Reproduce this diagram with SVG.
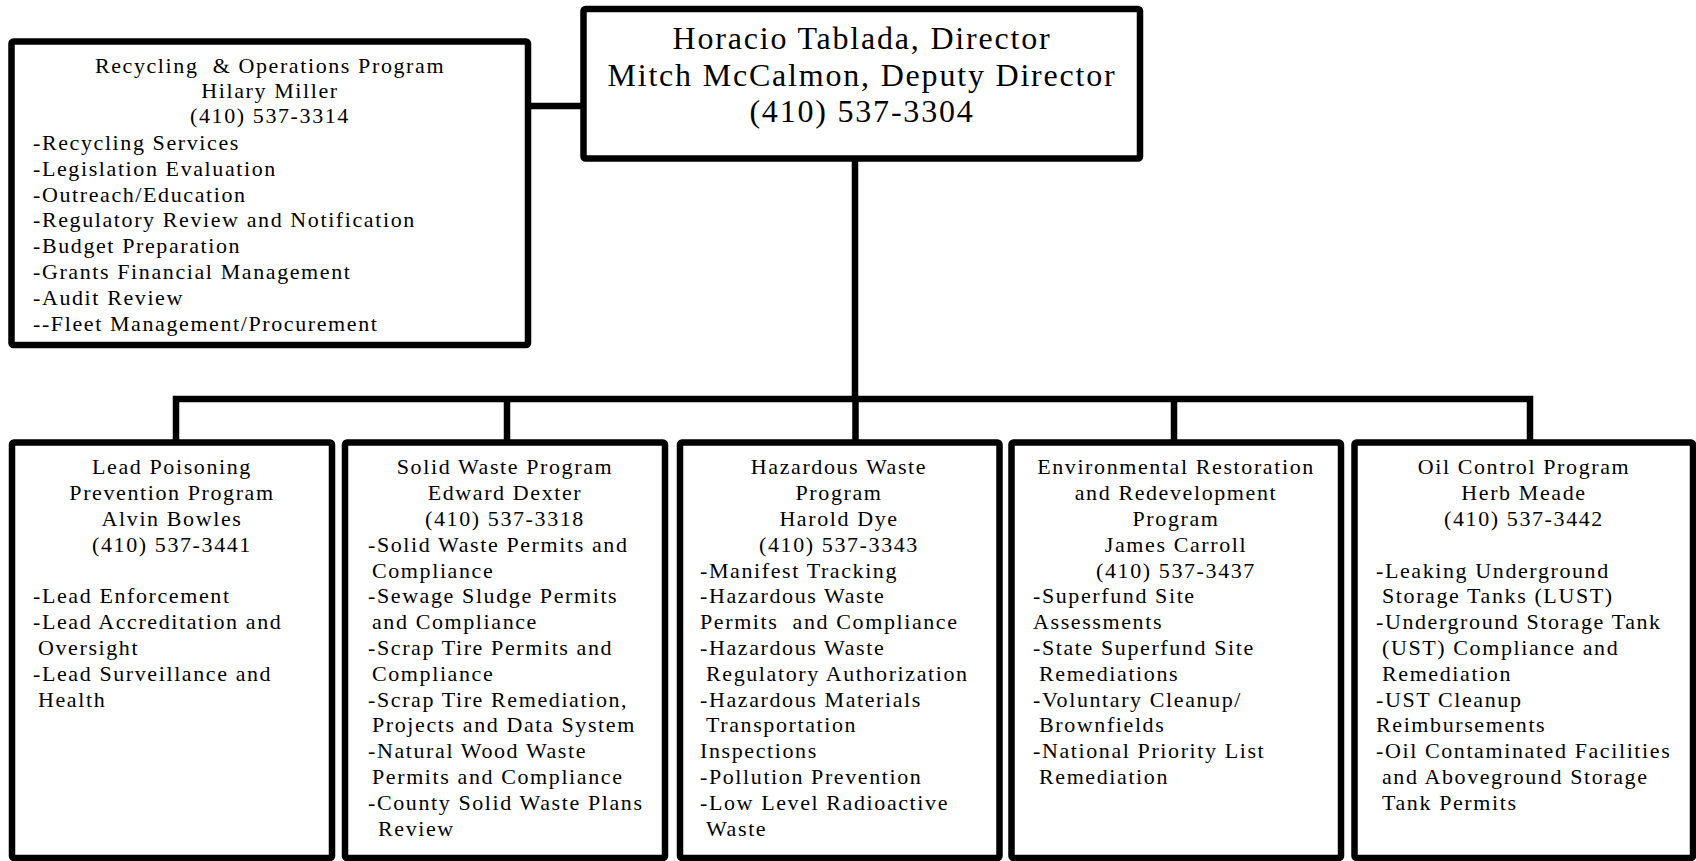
<svg xmlns="http://www.w3.org/2000/svg" width="1696" height="861" viewBox="0 0 1696 861">
<style>
.box{fill:#fff;stroke:#000;stroke-width:6.5;stroke-linejoin:round}
.ln{fill:none;stroke:#000;stroke-width:6.5;stroke-linejoin:miter;stroke-linecap:butt}
text{font-family:"Liberation Serif","Times New Roman",serif;fill:#000;font-size:22px;letter-spacing:1.6px}
.c{text-anchor:middle}
.dir{font-size:32px;letter-spacing:1.8px}
</style>
<rect width="1696" height="861" fill="#fff"/>
<g id="connectors">
<line class="ln" x1="528" y1="106" x2="584" y2="106"/>
<line class="ln" x1="855" y1="158" x2="855" y2="399"/>
<polyline class="ln" points="176,442 176,399 1530,399 1530,442"/>
<line class="ln" x1="507" y1="399" x2="507" y2="442"/>
<line class="ln" x1="855.5" y1="399" x2="855.5" y2="442"/>
<line class="ln" x1="1174" y1="399" x2="1174" y2="442"/>
</g>
<g id="director">
<rect class="box" x="583.5" y="9" width="556.5" height="149.5" rx="2"/>
<text class="c dir" x="862" y="49">Horacio Tablada, Director</text>
<text class="c dir" x="862" y="86">Mitch McCalmon, Deputy Director</text>
<text class="c dir" x="862" y="122">(410) 537-3304</text>
</g>
<g id="recycling">
<rect class="box" x="11.5" y="41.5" width="516.5" height="303.5" rx="2"/>
<text class="c" x="270" y="73" xml:space="preserve">Recycling  &amp; Operations Program</text>
<text class="c" x="270" y="98">Hilary Miller</text>
<text class="c" x="270" y="123">(410) 537-3314</text>
<text x="33" y="150">-Recycling Services</text>
<text x="33" y="176">-Legislation Evaluation</text>
<text x="33" y="202">-Outreach/Education</text>
<text x="33" y="227">-Regulatory Review and Notification</text>
<text x="33" y="253">-Budget Preparation</text>
<text x="33" y="279">-Grants Financial Management</text>
<text x="33" y="305">-Audit Review</text>
<text x="33" y="331">--Fleet Management/Procurement</text>
</g>
<g id="lead">
<rect class="box" x="12" y="442.5" width="320" height="415.5" rx="2"/>
<text class="c" x="172" y="474">Lead Poisoning</text>
<text class="c" x="172" y="500">Prevention Program</text>
<text class="c" x="172" y="526">Alvin Bowles</text>
<text class="c" x="172" y="552">(410) 537-3441</text>
<text x="33" y="603">-Lead Enforcement</text>
<text x="33" y="629">-Lead Accreditation and</text>
<text x="38" y="655">Oversight</text>
<text x="33" y="681">-Lead Surveillance and</text>
<text x="38" y="707">Health</text>
</g>
<g id="solidwaste">
<rect class="box" x="345" y="442.5" width="320" height="415.5" rx="2"/>
<text class="c" x="505" y="474">Solid Waste Program</text>
<text class="c" x="505" y="500">Edward Dexter</text>
<text class="c" x="505" y="526">(410) 537-3318</text>
<text x="368" y="552">-Solid Waste Permits and</text>
<text x="372" y="578">Compliance</text>
<text x="368" y="603">-Sewage Sludge Permits</text>
<text x="372" y="629">and Compliance</text>
<text x="368" y="655">-Scrap Tire Permits and</text>
<text x="372" y="681">Compliance</text>
<text x="368" y="707">-Scrap Tire Remediation,</text>
<text x="372" y="732">Projects and Data System</text>
<text x="368" y="758">-Natural Wood Waste</text>
<text x="372" y="784">Permits and Compliance</text>
<text x="368" y="810">-County Solid Waste Plans</text>
<text x="378" y="836">Review</text>
</g>
<g id="hazardous">
<rect class="box" x="680" y="442.5" width="319.5" height="415.5" rx="2"/>
<text class="c" x="839" y="474">Hazardous Waste</text>
<text class="c" x="839" y="500">Program</text>
<text class="c" x="839" y="526">Harold Dye</text>
<text class="c" x="839" y="552">(410) 537-3343</text>
<text x="700" y="578">-Manifest Tracking</text>
<text x="700" y="603">-Hazardous Waste</text>
<text x="700" y="629" xml:space="preserve">Permits  and Compliance</text>
<text x="700" y="655">-Hazardous Waste</text>
<text x="706" y="681">Regulatory Authorization</text>
<text x="700" y="707">-Hazardous Materials</text>
<text x="706" y="732">Transportation</text>
<text x="700" y="758">Inspections</text>
<text x="700" y="784">-Pollution Prevention</text>
<text x="700" y="810">-Low Level Radioactive</text>
<text x="706" y="836">Waste</text>
</g>
<g id="restoration">
<rect class="box" x="1011.5" y="442.5" width="329.5" height="415.5" rx="2"/>
<text class="c" x="1176" y="474">Environmental Restoration</text>
<text class="c" x="1176" y="500">and Redevelopment</text>
<text class="c" x="1176" y="526">Program</text>
<text class="c" x="1176" y="552">James Carroll</text>
<text class="c" x="1176" y="578">(410) 537-3437</text>
<text x="1033" y="603">-Superfund Site</text>
<text x="1033" y="629">Assessments</text>
<text x="1033" y="655">-State Superfund Site</text>
<text x="1039" y="681">Remediations</text>
<text x="1033" y="707">-Voluntary Cleanup/</text>
<text x="1039" y="732">Brownfields</text>
<text x="1033" y="758">-National Priority List</text>
<text x="1039" y="784">Remediation</text>
</g>
<g id="oil">
<rect class="box" x="1354.5" y="442.5" width="338.5" height="415.5" rx="2"/>
<text class="c" x="1524" y="474">Oil Control Program</text>
<text class="c" x="1524" y="500">Herb Meade</text>
<text class="c" x="1524" y="526">(410) 537-3442</text>
<text x="1376" y="578">-Leaking Underground</text>
<text x="1382" y="603">Storage Tanks (LUST)</text>
<text x="1376" y="629">-Underground Storage Tank</text>
<text x="1382" y="655">(UST) Compliance and</text>
<text x="1382" y="681">Remediation</text>
<text x="1376" y="707">-UST Cleanup</text>
<text x="1376" y="732">Reimbursements</text>
<text x="1376" y="758">-Oil Contaminated Facilities</text>
<text x="1382" y="784">and Aboveground Storage</text>
<text x="1382" y="810">Tank Permits</text>
</g>
</svg>
